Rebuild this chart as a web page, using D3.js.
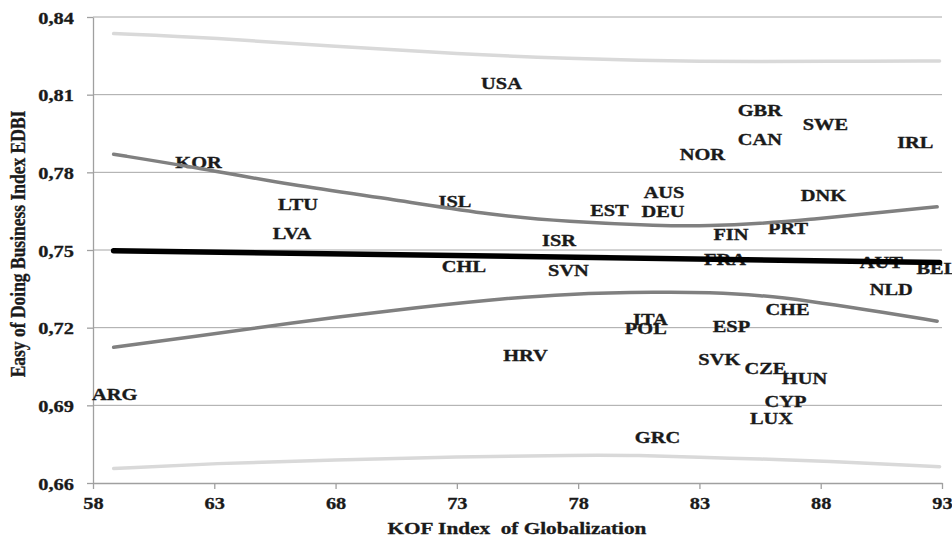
<!DOCTYPE html>
<html>
<head>
<meta charset="utf-8">
<script src="https://cdn.jsdelivr.net/npm/d3@7/dist/d3.min.js"></script>
<style>
  html, body { margin: 0; padding: 0; background: #fff; }
  svg { display: block; }
  text { font-family: "Liberation Serif", "Times New Roman", serif; font-weight: bold; fill: #1a1a1a; }
</style>
</head>
<body>
<div id="chart"></div>
<script>
// ---- data ----
const countries = ["USA","KOR","LTU","LVA","ISL","CHL","ISR","SVN","EST","AUS","DEU","NOR","GBR","CAN","SWE","IRL","DNK","PRT","FIN","FRA","AUT","BEL","NLD","CHE","ESP","ITA","POL","HRV","SVK","CZE","HUN","CYP","LUX","GRC","ARG"];
const kof =       [74.84, 62.35, 66.45, 66.2, 72.92, 73.29, 77.21, 77.6, 79.29, 81.54, 81.5, 83.12, 85.49, 85.49, 88.19, 91.9, 88.11, 86.65, 84.3, 84.05, 90.5, 92.79, 90.91, 86.63, 84.32, 80.98, 80.79, 75.83, 83.82, 85.72, 87.33, 86.55, 85.97, 81.27, 58.89];
const edbi =      [0.8145, 0.7839, 0.7677, 0.7563, 0.7688, 0.7437, 0.7538, 0.7422, 0.7654, 0.7723, 0.765, 0.787, 0.8041, 0.7928, 0.7986, 0.7914, 0.771, 0.7584, 0.7559, 0.7464, 0.7453, 0.7428, 0.7347, 0.727, 0.7204, 0.7231, 0.7196, 0.7094, 0.7076, 0.7044, 0.7003, 0.6914, 0.6849, 0.6777, 0.6941];

// linear fit
const fitX = [58.85, 92.9];
const fitY = [0.7497, 0.7452];

// confidence band of the fit
const ciX     = [58.85, 62.1, 66.2, 70.4, 74.5, 77.5, 81.4, 83.4, 85.5, 87.6, 89.6, 92.8];
const ciUpper = [0.787, 0.7821, 0.775, 0.7695, 0.7634, 0.761, 0.7593, 0.7593, 0.7602, 0.7618, 0.7637, 0.7667];
const ciLower = [0.7124, 0.7165, 0.7219, 0.7268, 0.7309, 0.7331, 0.7338, 0.7336, 0.7326, 0.7302, 0.7274, 0.7225];

// prediction band
const piX     = [58.85, 63, 68, 73, 78, 80.5, 83, 85.5, 88, 92.9];
const piUpper = [0.8336, 0.8319, 0.8287, 0.8257, 0.8239, 0.8233, 0.8229, 0.8228, 0.8229, 0.823];
const piLower = [0.6656, 0.6676, 0.6689, 0.6701, 0.6708, 0.6707, 0.6699, 0.6693, 0.6685, 0.6663];

const xTicks = [58, 63, 68, 73, 78, 83, 88, 93];
const yTicks = [0.66, 0.69, 0.72, 0.75, 0.78, 0.81, 0.84];

const xTitle = "KOF Index  of Globalization";
const yTitle = "Easy of Doing Business Index EDBI";

// ---- layout ----
const W = 952, H = 541;

const svg = d3.select("#chart").append("svg").attr("width", W).attr("height", H);

const x = d3.scaleLinear().domain([58, 93]).range([93, 942]);
const y = d3.scaleLinear().domain([0.66, 0.84]).range([483, 17]);

const fmt = d => d3.format(".2f")(d).replace(".", ",");

// gridlines
svg.append("g").selectAll("line").data(yTicks.filter(d => d > 0.66)).join("line")
  .attr("x1", x(58)).attr("x2", x(93))
  .attr("y1", d => y(d)).attr("y2", d => y(d))
  .attr("stroke", "#a6a6a6").attr("stroke-width", 1);

// axes
const yAxis = svg.append("g").attr("transform", `translate(${x(58)},0)`)
  .call(d3.axisLeft(y).tickValues(yTicks).tickFormat(fmt).tickSize(6).tickSizeOuter(0));
const xAxis = svg.append("g").attr("transform", `translate(0,${y(0.66)})`)
  .call(d3.axisBottom(x).tickValues(xTicks).tickFormat(d3.format("d")).tickSize(6).tickSizeOuter(0));

[yAxis, xAxis].forEach(g => {
  g.attr("font-family", null);
  g.select(".domain").attr("stroke", "#a0a0a0").attr("stroke-width", 1.3);
  g.selectAll(".tick line").attr("stroke", "#a0a0a0").attr("stroke-width", 1.3);
  g.selectAll("text").attr("font-size", 17).attr("fill", "#1a1a1a")
    .attr("stroke", "#1a1a1a").attr("stroke-width", 0.3);
});
yAxis.selectAll(".tick text")
  .attr("x", null).attr("dy", null)
  .attr("text-anchor", "end")
  .attr("transform", "translate(-19,6) scale(1.2,1)");
xAxis.selectAll(".tick text")
  .attr("y", null).attr("dy", null)
  .attr("text-anchor", "middle")
  .attr("transform", "translate(0,26) scale(1.2,1)");

// country labels
svg.append("g").selectAll("text").data(countries).join("text")
  .attr("text-anchor", "middle")
  .attr("font-size", 17)
  .attr("dy", "0.33em")
  .attr("stroke", "#1a1a1a").attr("stroke-width", 0.35)
  .attr("transform", (d, i) => `translate(${x(kof[i])},${y(edbi[i])}) scale(1.2,1)`)
  .text(d => d);

// bands and fit line
const bandLine = (xs, arr) => d3.line().x((d, i) => x(xs[i])).y(d => y(d)).curve(d3.curveBasis)(arr);

[[piX, piUpper, "#d9d9d9", 3.5], [piX, piLower, "#d9d9d9", 3.5],
 [ciX, ciUpper, "#808080", 3.5], [ciX, ciLower, "#808080", 3.5]]
  .forEach(([xs, arr, col, w]) => {
    svg.append("path").attr("d", bandLine(xs, arr))
      .attr("fill", "none").attr("stroke", col).attr("stroke-width", w)
      .attr("stroke-linecap", "round");
  });

svg.append("path")
  .attr("d", d3.line().x((d, i) => x(fitX[i])).y(d => y(d))(fitY))
  .attr("fill", "none").attr("stroke", "#000").attr("stroke-width", 5.5)
  .attr("stroke-linecap", "round");

// axis titles
svg.append("text")
  .attr("text-anchor", "middle").attr("font-size", 17)
  .attr("stroke", "#1a1a1a").attr("stroke-width", 0.3)
  .attr("style", "white-space: pre")
  .attr("transform", `translate(517,534) scale(1.25,1)`)
  .text(xTitle);

svg.append("text")
  .attr("text-anchor", "middle").attr("font-size", 17.5)
  .attr("stroke", "#1a1a1a").attr("stroke-width", 0.3)
  .attr("transform", `translate(25,244) rotate(-90) scale(1,1.2)`)
  .text(yTitle);
</script>
</body>
</html>
